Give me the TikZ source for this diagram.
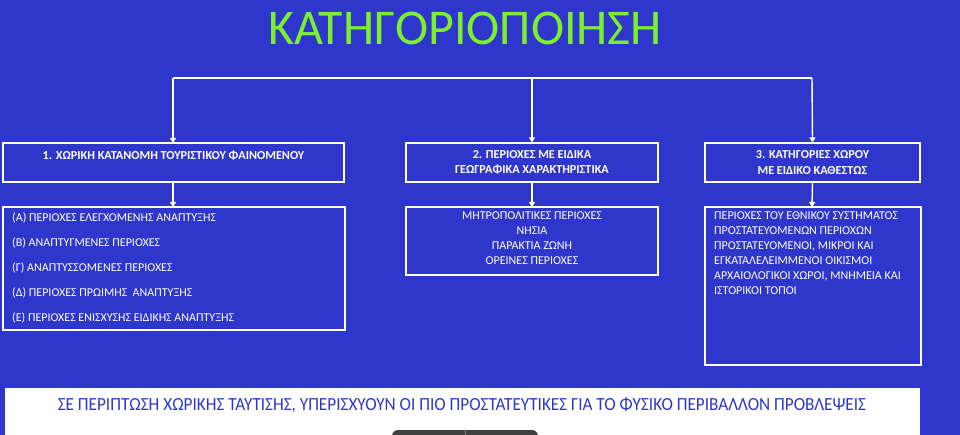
\documentclass[tikz,border=0pt]{standalone}
\usepackage{fontspec}
\setmainfont{Carlito}
\usetikzlibrary{arrows.meta}
\definecolor{bg}{HTML}{2E36CC}
\definecolor{ttl}{HTML}{7CF02C}
\definecolor{btxt}{HTML}{2E36CC}
\tikzset{
  hbox/.style={draw=white,line width=1.2pt,text=white,font=\bfseries\fontsize{12.2}{15.5}\selectfont,align=center},
  lbox/.style={draw=white,line width=1.2pt},
  ltxt/.style={text=white,font=\fontsize{12}{15}\selectfont,inner sep=0pt},
  conn/.style={draw=white,line width=1.4pt},
  arr/.style={conn,-{Triangle[width=6pt,length=5pt]}}
}
\begin{document}
\begin{tikzpicture}[x=1pt,y=-1pt]
\useasboundingbox (0,0) rectangle (960,435);
\fill[bg] (0,0) rectangle (960,435);
\node[text=ttl,font=\fontsize{50}{50}\selectfont,inner sep=0pt] (title) at (465,28) {ΚΑΤΗΓΟΡΙΟΠΟΙΗΣΗ};
% header boxes
\draw[lbox] (3,143) rectangle (344,182);
\node[hbox,draw=none,inner sep=0pt] (b1) at (173.5,156) {1. ΧΩΡΙΚΗ ΚΑΤΑΝΟΜΗ ΤΟΥΡΙΣΤΙΚΟΥ ΦΑΙΝΟΜΕΝΟΥ};
\node[hbox,minimum width=252pt,minimum height=39pt,inner sep=0pt] (b2) at (532,162.5) {2. ΠΕΡΙΟΧΕΣ ΜΕ ΕΙΔΙΚΑ\\ΓΕΩΓΡΑΦΙΚΑ ΧΑΡΑΚΤΗΡΙΣΤΙΚΑ};
\node[hbox,minimum width=215pt,minimum height=39pt,inner sep=0pt] (b3) at (812.5,162.5) {3. ΚΑΤΗΓΟΡΙΕΣ ΧΩΡΟΥ\\ΜΕ ΕΙΔΙΚΟ ΚΑΘΕΣΤΩΣ};
\coordinate (b1t) at (173,143); \coordinate (b1b) at (173,182);
% list boxes
\draw[lbox] (3,207) rectangle (345,330);
\coordinate (l1t) at (173,207);
\node[ltxt,anchor=west] (l1a) at (12,218) {(Α) ΠΕΡΙΟΧΕΣ ΕΛΕΓΧΟΜΕΝΗΣ ΑΝΑΠΤΥΞΗΣ};
\node[ltxt,anchor=west] (l1b) at (12,243) {(Β) ΑΝΑΠΤΥΓΜΕΝΕΣ ΠΕΡΙΟΧΕΣ};
\node[ltxt,anchor=west] (l1c) at (12,268) {(Γ) ΑΝΑΠΤΥΣΣΟΜΕΝΕΣ ΠΕΡΙΟΧΕΣ};
\node[ltxt,anchor=west] (l1d) at (12,293) {(Δ) ΠΕΡΙΟΧΕΣ ΠΡΩΙΜΗΣ~~ΑΝΑΠΤΥΞΗΣ};
\node[ltxt,anchor=west] (l1e) at (12,318) {(Ε) ΠΕΡΙΟΧΕΣ ΕΝΙΣΧΥΣΗΣ ΕΙΔΙΚΗΣ ΑΝΑΠΤΥΞΗΣ};
\draw[lbox] (406,207) rectangle (658,275);
\coordinate (l2t) at (532,207);
\node[ltxt,align=center,anchor=north] (l2) at (532,212) {ΜΗΤΡΟΠΟΛΙΤΙΚΕΣ ΠΕΡΙΟΧΕΣ\\ΝΗΣΙΑ\\ΠΑΡΑΚΤΙΑ ΖΩΝΗ\\ΟΡΕΙΝΕΣ ΠΕΡΙΟΧΕΣ};
\draw[lbox] (705,207) rectangle (921,365);
\coordinate (l3t) at (812,207);
\node[ltxt,align=left,anchor=north west] (l3) at (714,212) {ΠΕΡΙΟΧΕΣ ΤΟΥ ΕΘΝΙΚΟΥ ΣΥΣΤΗΜΑΤΟΣ\\ΠΡΟΣΤΑΤΕΥΟΜΕΝΩΝ ΠΕΡΙΟΧΩΝ\\ΠΡΟΣΤΑΤΕΥΟΜΕΝΟΙ, ΜΙΚΡΟΙ ΚΑΙ\\ΕΓΚΑΤΑΛΕΛΕΙΜΜΕΝΟΙ ΟΙΚΙΣΜΟΙ\\ΑΡΧΑΙΟΛΟΓΙΚΟΙ ΧΩΡΟΙ, ΜΝΗΜΕΙΑ ΚΑΙ\\ΙΣΤΟΡΙΚΟΙ ΤΟΠΟΙ};
% connectors
\coordinate (jl) at (173,78); \coordinate (jm) at (532,78); \coordinate (jr) at (812,78);
\draw[conn] (jl) -- (jr);
\draw[arr] (jl) -- (b1t);
\draw[arr] (jm) -- (b2.north);
\draw[arr] (jr) -- (b3.north);
\draw[arr] (b1b) -- (l1t);
\draw[arr] (b2.south) -- (l2t);
\draw[arr] (b3.south) -- (l3t);
% bottom band
\fill[white] (5,388) rectangle (920,436);
\node[text=btxt,font=\fontsize{18.5}{18.5}\selectfont,inner sep=0pt] (note) at (462,405) {\addfontfeature{FakeStretch=0.93}ΣΕ ΠΕΡΙΠΤΩΣΗ ΧΩΡΙΚΗΣ ΤΑΥΤΙΣΗΣ, ΥΠΕΡΙΣΧΥΟΥΝ ΟΙ ΠΙΟ ΠΡΟΣΤΑΤΕΥΤΙΚΕΣ ΓΙΑ ΤΟ ΦΥΣΙΚΟ ΠΕΡΙΒΑΛΛΟΝ ΠΡΟΒΛΕΨΕΙΣ};
\fill[black!75,rounded corners=6pt] (392,430) rectangle (538,445);
\draw[gray,line width=0.6pt] (465,430) -- (465,435);
\end{tikzpicture}
\end{document}
